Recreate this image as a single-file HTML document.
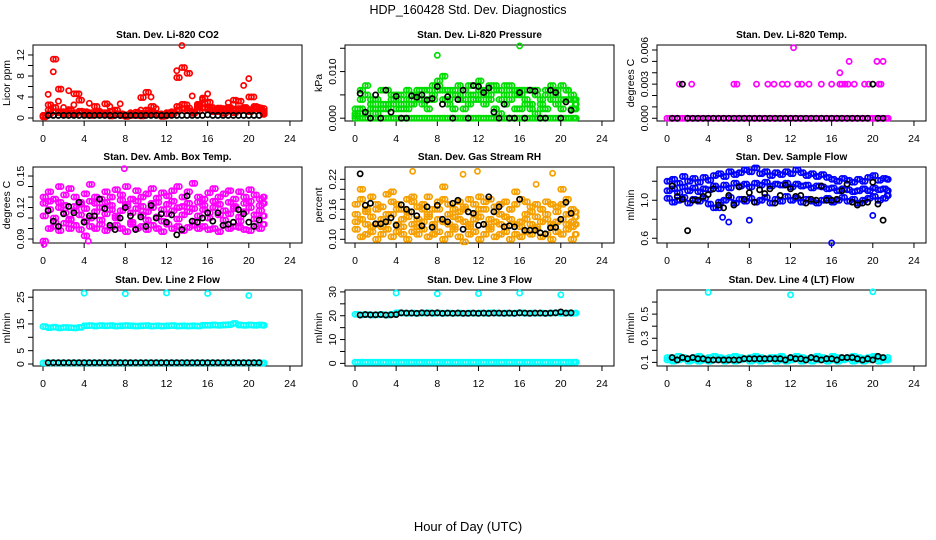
<!DOCTYPE html>
<html><head><meta charset="utf-8">
<style>
html,body{margin:0;padding:0;background:#fff;}
svg{display:block;font-family:"Liberation Sans",Arial,sans-serif;}
</style></head>
<body>
<svg id="chart" width="936" height="540" viewBox="0 0 936 540" xmlns="http://www.w3.org/2000/svg">
<text x="468" y="14" text-anchor="middle" font-size="12.5">HDP_160428  Std. Dev. Diagnostics</text>
<text x="468" y="531" text-anchor="middle" font-size="13">Hour of Day (UTC)</text>
</svg>
<script>
// Hour categories
const H = [0,0.5,1,1.5,2,2.5,3,3.5,4,4.5,5,5.5,6,6.5,7,7.5,8,8.5,9,9.5,10,10.5,11,11.5,12,12.5,13,13.5,14,14.5,15,15.5,16,16.5,17,17.5,18,18.5,19,19.5,20,20.5,21,21.5];
const H2 = [0.25,0.75,1.25,1.75,2.25,2.75,3.25,3.75,4.25,4.75,5.25,5.75,6.25,6.75,7.25,7.75,8.25,8.75,9.25,9.75,10.25,10.75,11.25,11.75,12.25,12.75,13.25,13.75,14.25,14.75,15.25,15.75,16.25,16.75,17.25,17.75,18.25,18.75,19.25,19.75,20.25,20.75,21.25,21.4];
const HB = [0.5,1,1.5,2,2.5,3,3.5,4,4.5,5,5.5,6,6.5,7,7.5,8,8.5,9,9.5,10,10.5,11,11.5,12,12.5,13,13.5,14,14.5,15,15.5,16,16.5,17,17.5,18,18.5,19,19.5,20,20.5,21];
const xTicks = [0,4,8,12,16,20,24];

// Panel 1 CO2
const co2A = [0.5,0.8,1.2,1.0,0.6,0.9,0.7,1.1,0.8,0.5,0.6,1.0,0.9,1.3,0.7,0.6,0.5,0.8,0.6,0.4,0.9,1.2,0.7,0.5,0.8,1.0,1.5,1.8,1.4,1.1,1.3,1.9,1.6,1.2,1.5,1.8,1.3,1.0,1.4,1.6,1.2,1.8,1.5,1.0];
const co2B = [0.3,4.5,8.8,3.2,2.0,5.2,2.5,4.6,1.0,2.8,0.8,1.3,0.7,2.2,0.9,2.7,0.5,1.0,0.6,1.5,1.4,4.0,1.8,0.8,0.4,1.2,9.0,13.8,2.5,4.2,2.0,3.5,4.6,2.0,1.8,1.5,2.9,2.6,1.5,6.2,7.5,4.0,2.0,1.8];
const co2C = [0.2,2.5,11.2,5.5,1.2,1.6,4.6,3.4,1.2,1.0,2.2,0.6,2.7,0.4,1.5,0.8,0.3,0.5,1.1,3.9,4.9,2.2,0.7,0.3,1.0,0.8,7.7,9.6,8.5,0.9,2.6,3.8,3.0,1.5,1.2,0.9,2.0,3.4,3.2,1.7,4.0,2.1,1.5,0.7];
const co2D = [0.3,1.5,2.0,1.2,0.8,1.4,1.0,1.3,0.6,0.9,1.1,0.7,1.0,0.6,0.8,0.5,0.6,0.7,0.5,0.9,1.5,0.8,0.6,0.4,0.7,1.1,2.2,2.6,1.9,1.2,2.3,2.8,2.0,1.6,1.9,1.4,1.7,1.5,1.8,2.0,1.6,2.2,1.9,1.3];
const co2K = [0.5,0.5,0.5,0.5,0.5,0.5,0.5,0.5,0.5,0.5,0.5,0.5,0.5,0.5,0.5,0.5,0.5,0.5,0.5,0.5,0.5,0.5,0.5,0.5,0.5,0.5,0.5,0.5,0.5,0.5,0.5,0.6,0.5,0.5,0.5,0.5,0.5,0.5,0.5,0.5,0.5,0.5];

// Panel 2 pressure
const prZ = [0,0,0,0,0,0,0,0,0,0,0,0,0,0,0,0,0,0,0,0,0,0,0,0,0,0,0,0,0,0,0,0,0,0,0,0,0,0,0,0,0,0,0,0];
const prA = [0.002,0.006,0.007,0.002,0.004,0.003,0.006,0.003,0.005,0.002,0.004,0.005,0.006,0.004,0.006,0.007,0.008,0.009,0.006,0.005,0.007,0.006,0.005,0.007,0.008,0.006,0.007,0.006,0.004,0.007,0.006,0.005,0.006,0.004,0.006,0.005,0.004,0.006,0.007,0.006,0.007,0.006,0.004,0.003];
const prB = [0.001,0.002,0.001,0.003,0.001,0.002,0.003,0.004,0.002,0.003,0.002,0.003,0.004,0.003,0.002,0.004,0.006,0.004,0.003,0.002,0.004,0.002,0.003,0.005,0.004,0.003,0.005,0.002,0.001,0.003,0.004,0.002,0.002,0.003,0.002,0.001,0.003,0.002,0.004,0.003,0.002,0.004,0.002,0.002];
const prC = [0.0005,0.004,0.005,0.004,0.002,0.006,0.002,0.005,0.004,0.005,0.006,0.003,0.005,0.006,0.004,0.005,0.007,0.006,0.004,0.006,0.005,0.004,0.007,0.004,0.006,0.005,0.004,0.007,0.006,0.005,0.007,0.006,0.005,0.006,0.003,0.006,0.002,0.005,0.006,0.005,0.004,0.006,0.005,0.004];
const prOutH = [8,16];
const prOutV = [0.0135,0.0155];
const prK = [0.0053,0.0013,0,0.005,0,0.006,0.0013,0.0047,0,0,0.0048,0.0045,0.005,0.0039,0.0042,0.0068,0.003,0.0046,0,0.004,0.006,0,0.007,0.0068,0.0055,0.0065,0.0013,0,0.003,0,0,0.0055,0,0.006,0.0058,0,0,0.006,0.0055,0,0.0035,0.0017];

// Panel 3 temperature
const tpZ = [0,0,0,0,0,0,0,0,0,0,0,0,0,0,0,0,0,0,0,0,0,0,0,0,0,0,0,0,0,0,0,0,0,0,0,0,0,0,0,0,0,0,0,0];
const tpH = [1.2,2.4,6.5,6.8,8.7,9.8,10.4,11.2,11.7,12.7,13.1,13.8,15,16,16.8,17,17.3,17.6,18.2,19.2,19.6,20.6,20.8,16.8,17.7,20.4,21,12.3];
const tpV = [0.003,0.003,0.003,0.003,0.003,0.003,0.003,0.003,0.003,0.003,0.003,0.003,0.003,0.003,0.003,0.003,0.003,0.003,0.003,0.003,0.003,0.003,0.003,0.004,0.005,0.005,0.005,0.0062];
const tpK = [0,0,0.003,0,0,0,0,0,0,0,0,0,0,0,0,0,0,0,0,0,0,0,0,0,0,0,0,0,0,0,0,0,0,0,0,0,0,0,0,0.003,0,0];

// Panel 4 ambient box temp
const abA = [0.13,0.135,0.128,0.14,0.132,0.138,0.13,0.125,0.133,0.142,0.13,0.128,0.135,0.13,0.137,0.132,0.14,0.128,0.136,0.13,0.133,0.138,0.129,0.134,0.131,0.136,0.14,0.13,0.135,0.143,0.13,0.128,0.134,0.138,0.13,0.133,0.136,0.128,0.135,0.13,0.137,0.132,0.128,0.13];
const abB = [0.112,0.118,0.11,0.12,0.115,0.108,0.117,0.113,0.119,0.11,0.116,0.12,0.114,0.118,0.112,0.117,0.121,0.115,0.119,0.113,0.116,0.12,0.111,0.118,0.114,0.117,0.12,0.113,0.116,0.119,0.112,0.118,0.115,0.12,0.113,0.117,0.114,0.119,0.111,0.116,0.12,0.113,0.117,0.112];
const abC = [0.088,0.1,0.102,0.098,0.105,0.1,0.103,0.099,0.093,0.102,0.1,0.104,0.098,0.101,0.103,0.1,0.097,0.104,0.1,0.102,0.099,0.103,0.1,0.097,0.104,0.1,0.102,0.098,0.101,0.103,0.1,0.102,0.099,0.1,0.097,0.103,0.1,0.102,0.101,0.099,0.098,0.102,0.1,0.104];
const abD = [0.124,0.126,0.106,0.125,0.122,0.109,0.121,0.123,0.107,0.126,0.124,0.108,0.125,0.122,0.11,0.127,0.123,0.106,0.126,0.121,0.108,0.124,0.125,0.107,0.123,0.126,0.109,0.121,0.124,0.107,0.125,0.122,0.11,0.126,0.123,0.108,0.125,0.121,0.107,0.124,0.126,0.109,0.122,0.124];
const abK = [0.117,0.107,0.102,0.114,0.121,0.115,0.125,0.106,0.112,0.112,0.128,0.119,0.103,0.099,0.11,0.12,0.112,0.099,0.111,0.102,0.122,0.11,0.114,0.106,0.113,0.094,0.099,0.131,0.107,0.106,0.11,0.115,0.107,0.115,0.103,0.104,0.106,0.118,0.114,0.106,0.102,0.108];
const abOutH = [0.1,7.9,4.4];
const abOutV = [0.085,0.157,0.088];

// Panel 5 gas stream RH
const rhA = [0.17,0.18,0.16,0.185,0.17,0.165,0.19,0.175,0.17,0.16,0.18,0.175,0.165,0.17,0.185,0.16,0.175,0.18,0.17,0.16,0.175,0.165,0.18,0.17,0.16,0.175,0.18,0.165,0.17,0.175,0.16,0.17,0.18,0.175,0.165,0.17,0.16,0.175,0.17,0.165,0.17,0.18,0.16,0.155];
const rhB = [0.135,0.14,0.13,0.145,0.13,0.14,0.135,0.15,0.13,0.14,0.145,0.13,0.14,0.135,0.145,0.13,0.14,0.135,0.13,0.145,0.14,0.135,0.13,0.14,0.145,0.13,0.14,0.135,0.13,0.145,0.14,0.13,0.135,0.14,0.13,0.145,0.135,0.14,0.13,0.135,0.14,0.13,0.135,0.13];
const rhC = [0.12,0.105,0.11,0.115,0.1,0.11,0.12,0.105,0.115,0.11,0.1,0.115,0.11,0.12,0.105,0.11,0.115,0.1,0.11,0.12,0.105,0.095,0.11,0.115,0.1,0.11,0.12,0.105,0.11,0.115,0.1,0.11,0.105,0.115,0.11,0.12,0.105,0.11,0.1,0.115,0.11,0.12,0.1,0.11];
const rhD = [0.15,0.2,0.155,0.125,0.16,0.125,0.15,0.195,0.16,0.125,0.155,0.185,0.125,0.16,0.15,0.125,0.16,0.205,0.15,0.125,0.155,0.16,0.125,0.15,0.185,0.16,0.125,0.155,0.15,0.125,0.16,0.195,0.125,0.15,0.155,0.125,0.16,0.15,0.125,0.155,0.2,0.15,0.125,0.145];
const rhOutH = [5.6,10.5,11.9,17.6,19.2];
const rhOutV = [0.236,0.23,0.236,0.21,0.232];
const rhK = [0.231,0.168,0.172,0.131,0.131,0.135,0.143,0.128,0.169,0.16,0.155,0.147,0.127,0.165,0.124,0.168,0.14,0.135,0.172,0.178,0.12,0.155,0.152,0.128,0.13,0.185,0.155,0.165,0.125,0.127,0.125,0.18,0.118,0.118,0.118,0.113,0.111,0.123,0.124,0.14,0.174,0.152];

// Panel 6 sample flow
const sfA = [1.2,1.22,1.18,1.25,1.2,1.23,1.19,1.24,1.21,1.26,1.28,1.25,1.3,1.27,1.29,1.32,1.3,1.34,1.28,1.3,1.26,1.29,1.27,1.3,1.28,1.32,1.29,1.26,1.28,1.25,1.27,1.24,1.22,1.2,1.23,1.21,1.19,1.22,1.2,1.24,1.26,1.21,1.23,1.22];
const sfB = [1.1,1.12,1.08,1.14,1.1,1.13,1.09,1.12,1.11,1.15,1.12,1.16,1.13,1.18,1.15,1.17,1.14,1.18,1.16,1.19,1.15,1.17,1.16,1.18,1.14,1.17,1.15,1.16,1.13,1.15,1.14,1.12,1.13,1.1,1.12,1.11,1.09,1.1,1.12,1.1,1.13,1.11,1.12,1.1];
const sfC = [1.02,0.98,1.0,1.03,0.97,1.01,0.99,1.02,0.96,0.92,0.98,1.0,1.03,0.97,1.01,0.99,1.02,0.98,1.0,1.03,0.97,1.01,0.99,1.04,1.0,1.02,0.98,1.01,0.99,0.97,1.0,1.02,0.98,1.0,1.03,0.99,1.01,0.97,1.0,1.02,1.04,1.0,1.02,1.05];
const sfOutH = [5.4,6,8,16,20,5.1];
const sfOutV = [0.82,0.77,0.79,0.55,0.84,0.92];
const sfK = [1.15,1.04,1.01,0.68,1.0,1.0,1.04,1.06,1.12,0.95,0.92,1.05,0.95,1.14,1.01,1.08,0.98,1.11,1.07,1.12,0.97,1.05,1.16,1.12,1.04,1.05,0.97,1.01,1.0,1.15,1.0,1.0,1.01,1.1,1.17,0.98,0.95,0.97,0.98,1.19,0.96,0.79];

// Panel 7 line 2 flow
const l2A = [14,13.6,13.8,13.5,13.7,13.6,13.5,13.7,14.3,14.4,14.2,14.4,14.3,14.4,14.2,14.3,14.4,14.3,14.2,14.3,14.4,14.2,14.3,14.2,14.3,14.4,14.2,14.3,14.2,14.3,14.2,14.5,14.5,14.6,14.5,14.6,14.7,15.2,14.6,14.5,14.6,14.5,14.6,14.5];
const l2Z = [0.4,0.4,0.4,0.4,0.4,0.4,0.4,0.4,0.4,0.4,0.4,0.4,0.4,0.4,0.4,0.4,0.4,0.4,0.4,0.4,0.4,0.4,0.4,0.4,0.4,0.4,0.4,0.4,0.4,0.4,0.4,0.4,0.4,0.4,0.4,0.4,0.4,0.4,0.4,0.4,0.4,0.4,0.4,0.4];
const l2OutH = [4,8,12,16,20];
const l2OutV = [26.5,26.3,26.6,26.4,25.6];
const l2K = [0.5,0.5,0.5,0.5,0.5,0.5,0.5,0.5,0.5,0.5,0.5,0.5,0.5,0.5,0.5,0.5,0.5,0.5,0.5,0.5,0.5,0.5,0.5,0.5,0.5,0.5,0.5,0.5,0.5,0.5,0.5,0.5,0.5,0.5,0.5,0.5,0.5,0.5,0.5,0.5,0.5,0.5];

// Panel 8 line 3 flow
const l3A = [20.6,20.4,20.5,20.3,20.4,20.5,20.3,20.6,21.2,21.1,21.0,21.1,21.0,21.1,21.2,21.0,21.1,21.0,21.1,21.0,21.1,21.0,21.1,21.0,21.1,21.0,21.2,21.1,21.0,21.1,21.0,21.1,21.2,21.0,21.1,21.0,21.1,21.0,21.1,21.2,21.0,21.1,21.0,21.1];
const l3Z = [0.5,0.5,0.5,0.5,0.5,0.5,0.5,0.5,0.5,0.5,0.5,0.5,0.5,0.5,0.5,0.5,0.5,0.5,0.5,0.5,0.5,0.5,0.5,0.5,0.5,0.5,0.5,0.5,0.5,0.5,0.5,0.5,0.5,0.5,0.5,0.5,0.5,0.5,0.5,0.5,0.5,0.5,0.5,0.5];
const l3OutH = [4,8,12,16,20];
const l3OutV = [29.5,29.2,29.3,29.5,28.8];
const l3K = [20.3,20.5,20.4,20.4,20.5,20.3,20.4,20.5,21.2,21.1,21.1,21.0,21.2,21.1,21.1,21.2,21.0,21.1,21.0,21.1,21.0,21.0,21.1,21.0,21.1,21.0,21.1,21.1,21.0,21.1,21.0,21.2,21.1,21.0,21.1,21.1,21.0,21.1,21.2,21.6,21.1,21.2];

// Panel 9 line 4 flow
const l4A = [0.14,0.13,0.15,0.14,0.13,0.14,0.15,0.13,0.14,0.15,0.14,0.13,0.14,0.15,0.14,0.13,0.14,0.15,0.14,0.13,0.14,0.14,0.15,0.13,0.14,0.15,0.14,0.13,0.14,0.15,0.14,0.13,0.15,0.14,0.13,0.14,0.15,0.14,0.13,0.14,0.15,0.14,0.13,0.14];
const l4B = [0.12,0.11,0.12,0.13,0.11,0.12,0.11,0.12,0.11,0.12,0.13,0.11,0.12,0.11,0.12,0.13,0.11,0.12,0.11,0.12,0.13,0.11,0.12,0.11,0.12,0.13,0.11,0.12,0.11,0.12,0.13,0.11,0.12,0.11,0.12,0.13,0.11,0.12,0.11,0.12,0.13,0.11,0.12,0.12];
const l4OutH = [4,12,20];
const l4OutV = [0.68,0.66,0.685];
const l4K = [0.14,0.12,0.14,0.13,0.14,0.13,0.13,0.12,0.12,0.12,0.12,0.12,0.12,0.12,0.13,0.13,0.13,0.13,0.13,0.13,0.13,0.13,0.12,0.14,0.13,0.13,0.12,0.14,0.13,0.12,0.13,0.13,0.12,0.14,0.14,0.14,0.13,0.12,0.13,0.12,0.15,0.14];

const svg = document.getElementById('chart');
const NS = 'http://www.w3.org/2000/svg';
function mk(tag, attrs, parent){
  const e = document.createElementNS(NS, tag);
  for (const k in attrs) e.setAttribute(k, attrs[k]);
  (parent||svg).appendChild(e);
  return e;
}

const panels = [
  {name:'co2', title:'Stan. Dev. Li-820 CO2', ylab:'Licor ppm', col:0,row:0, ylim:[-0.57,13.9], ticks:[0,2,4,6,8,10,12], labels:[0,4,8,12], dec:0, color:'#ff0000',
   series:[[H,co2A],[H2,co2D],[H,co2D],[H2,co2A],[H,co2B],[H2,co2C],[H,co2C]], black:co2K},
  {name:'pressure', title:'Stan. Dev. Li-820 Pressure', ylab:'kPa', col:1,row:0, ylim:[-0.0006,0.0157], ticks:[0,0.005,0.01,0.015], labels:[0,0.01], dec:3, color:'#00dd00',
   series:[[H,prZ],[H2,prZ],[H,prB],[H2,prB],[H,prA],[H2,prC],[H,prC],[H2,prA],[prOutH,prOutV]], black:prK},
  {name:'temp', title:'Stan. Dev. Li-820 Temp.', ylab:'degrees C', col:2,row:0, ylim:[-0.00024,0.00644], ticks:[0,0.001,0.002,0.003,0.004,0.005,0.006], labels:[0,0.003,0.006], dec:3, color:'#ff00ff',
   series:[[H,tpZ],[H2,tpZ],[tpH,tpV]], black:tpK},
  {name:'amb-box-temp', title:'Stan. Dev. Amb. Box Temp.', ylab:'degrees C', col:0,row:1, ylim:[0.0862,0.1586], ticks:[0.09,0.1,0.11,0.12,0.13,0.14,0.15], labels:[0.09,0.12,0.15], dec:2, color:'#ff00ff',
   series:[[H,abA],[H2,abB],[H,abB],[H2,abD],[H,abC],[H2,abA],[H,abD],[H2,abC],[abOutH,abOutV]], black:abK},
  {name:'gas-stream-rh', title:'Stan. Dev. Gas Stream RH', ylab:'percent', col:1,row:1, ylim:[0.0926,0.2446], ticks:[0.1,0.12,0.14,0.16,0.18,0.2,0.22], labels:[0.1,0.16,0.22], dec:2, color:'#f5a000',
   series:[[H,rhA],[H2,rhB],[H,rhB],[H2,rhD],[H,rhC],[H2,rhA],[H,rhD],[H2,rhC],[rhOutH,rhOutV]], black:rhK},
  {name:'sample-flow', title:'Stan. Dev. Sample Flow', ylab:'ml/min', col:2,row:1, ylim:[0.55,1.35], ticks:[0.6,0.8,1.0,1.2], labels:[0.6,1.0], dec:1, color:'#0000ff',
   series:[[H,sfA],[H2,sfB],[H,sfB],[H2,sfC],[H,sfC],[H2,sfA],[sfOutH,sfOutV]], black:sfK},
  {name:'line2-flow', title:'Stan. Dev. Line 2 Flow', ylab:'ml/min', col:0,row:2, ylim:[-0.74,27.7], ticks:[0,5,10,15,20,25], labels:[0,5,15,25], dec:0, color:'#00ffff',
   series:[[H,l2A],[H2,l2A],[H,l2Z],[H2,l2Z],[l2OutH,l2OutV]], black:l2K},
  {name:'line3-flow', title:'Stan. Dev. Line 3 Flow', ylab:'ml/min', col:1,row:2, ylim:[-1.1,30.8], ticks:[0,5,10,15,20,25,30], labels:[0,10,20,30], dec:0, color:'#00ffff',
   series:[[H,l3A],[H2,l3A],[H,l3Z],[H2,l3Z],[l3OutH,l3OutV]], black:l3K},
  {name:'line4-flow', title:'Stan. Dev. Line 4 (LT) Flow', ylab:'ml/min', col:2,row:2, ylim:[0.07,0.70], ticks:[0.1,0.2,0.3,0.4,0.5,0.6], labels:[0.1,0.3,0.5], dec:1, color:'#00ffff',
   series:[[H,l4A],[H2,l4B],[H,l4B],[H2,l4A],[l4OutH,l4OutV]], black:l4K}
];

const colX0 = [43,355,667];
const rowTop = [45,167,290];
const BH = 76, PXH = 10.29;

panels.forEach(p => {
  const x0 = colX0[p.col], top = rowTop[p.row], bot = top+BH;
  const left = x0-10, right = x0+259;
  const sx = h => x0 + h*PXH;
  const sy = v => bot - (v - p.ylim[0])/(p.ylim[1]-p.ylim[0])*BH;
  const g = mk('g', {});
  
  
  const t = mk('text', {x:(left+right)/2, y:top-7, 'text-anchor':'middle', 'font-size':'10', 'font-weight':'bold'}, g);
  t.textContent = p.title;
  
  
  const box = mk('rect', {x:left, y:top, width:right-left, height:BH, fill:'none', stroke:'#000', 'stroke-width':1}, g);
  
  
  const xa = mk('g', {}, g);
  
  
  mk('line', {x1:sx(0), x2:sx(24), y1:bot, y2:bot, stroke:'#000'}, xa);
  xTicks.forEach(v => {
    mk('line', {x1:sx(v), x2:sx(v), y1:bot, y2:bot+5, stroke:'#000'}, xa);
    const tl = mk('text', {x:sx(v), y:bot+21, 'text-anchor':'middle', 'font-size':'10.5'}, xa);
    tl.textContent = v;
    
    
  });
  const ya = mk('g', {}, g);
  
  
  mk('line', {x1:left, x2:left, y1:sy(p.ticks[0]), y2:sy(p.ticks[p.ticks.length-1]), stroke:'#000'}, ya);
  p.ticks.forEach(v => mk('line', {x1:left-5, x2:left, y1:sy(v), y2:sy(v), stroke:'#000'}, ya));
  p.labels.forEach(v => {
    const lx = left-9, ly = sy(v);
    const tl = mk('text', {x:lx, y:ly, 'text-anchor':'middle', 'font-size':'10.5', transform:`rotate(-90 ${lx} ${ly})`}, ya);
    tl.textContent = v.toFixed(p.dec);
    
    
  });
  const yl = mk('text', {x:left-23, y:(top+bot)/2, 'text-anchor':'middle', 'font-size':'10.5', transform:`rotate(-90 ${left-23} ${(top+bot)/2})`}, g);
  yl.textContent = p.ylab;
  
  
  p.series.forEach(s => {
    const hs = s[0], vs = s[1];
    vs.forEach((v,i) => {
      const c = mk('circle', {cx:sx(hs[i]), cy:sy(v), r:2.6, fill:'none', stroke:p.color, 'stroke-width':1.7}, g);
      
      
    });
  });
  p.black.forEach((v,i) => {
    const c = mk('circle', {cx:sx(HB[i]), cy:sy(v), r:2.6, fill:'none', stroke:'#000', 'stroke-width':1.7}, g);
    
    
  });
});
</script>
</body></html>
